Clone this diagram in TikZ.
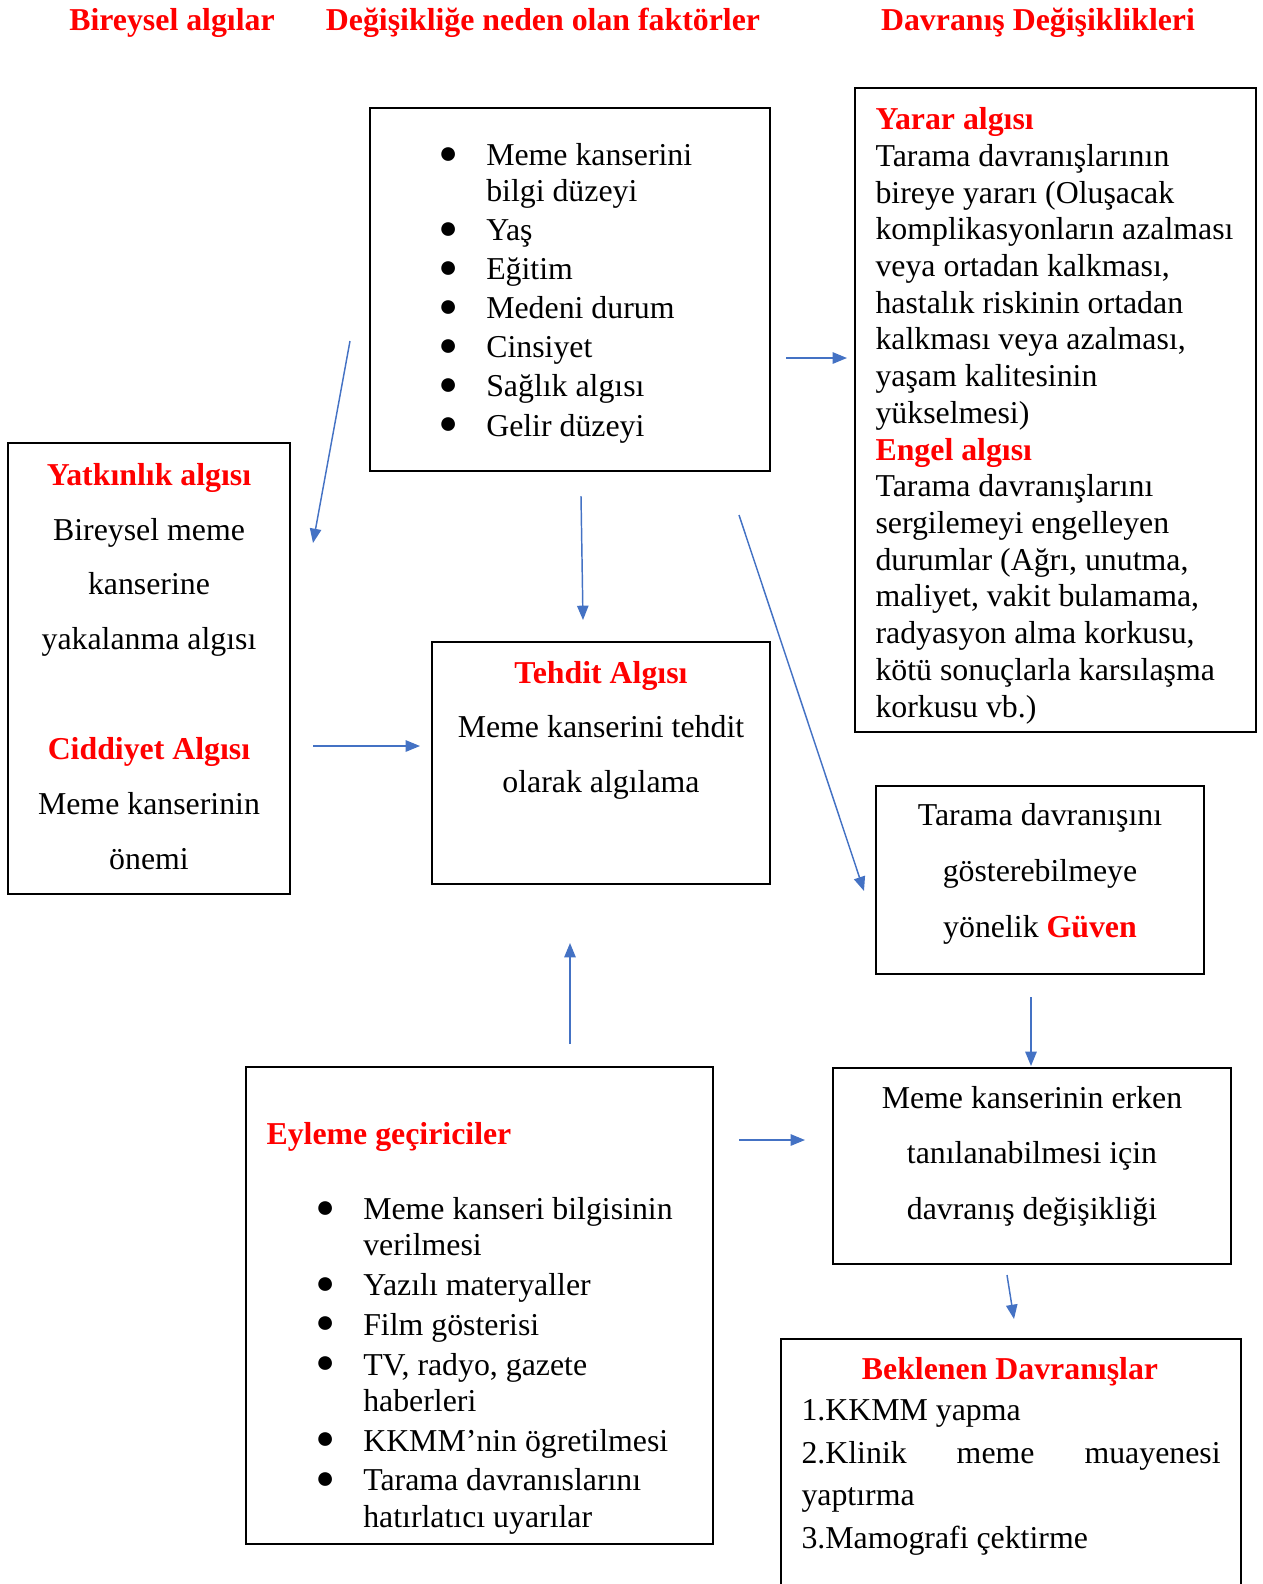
\documentclass[tikz,border=0pt]{standalone}
\usepackage{fontspec}
\setmainfont{Liberation Serif}
\usepackage{tikz}
\usetikzlibrary{arrows.meta}
\definecolor{arrblue}{HTML}{4472C4}
\newcommand{\unitpx}{0.377pt}
\newcommand{\bul}{\makebox[18pt][l]{\raisebox{0.8pt}{●}}}
\newcommand{\ind}{\hspace*{18pt}}
\newcommand{\head}[1]{\textcolor{red}{\textbf{#1}}}

\begin{document}
\begin{tikzpicture}
  [x=\unitpx,y=-\unitpx,
   box/.style={draw,line width=0.8pt,inner sep=0pt,outer sep=0pt},
   txt/.style={inner sep=0pt,font=\fontsize{12}{13.84}\selectfont},
   wide/.style={inner sep=0pt,font=\fontsize{12}{20.7}\selectfont,align=center,anchor=base},
   arr/.style={draw=arrblue,line width=0.55pt,-{Triangle[length=5.4pt,width=4.3pt]}}]
  \useasboundingbox (0,0) rectangle (1263,1584);

  \node[txt,anchor=base] (t1) at (172,30) {\head{Bireysel algılar}};
  \node[txt,anchor=base] (t2) at (543,30) {\head{Değişikliğe neden olan faktörler}};
  \node[txt,anchor=base] (t3) at (1038,30) {\head{Davranış Değişiklikleri}};

  \node[box,minimum width=400*\unitpx,minimum height=363*\unitpx] (fak) at (570,289.5) {};
  \node[box,minimum width=401*\unitpx,minimum height=644*\unitpx] (yarar) at (1055.5,410) {};
  \node[box,minimum width=282*\unitpx,minimum height=451*\unitpx] (yatkin) at (149,668.5) {};
  \node[box,minimum width=338*\unitpx,minimum height=242*\unitpx] (tehdit) at (601,763) {};
  \node[box,minimum width=328*\unitpx,minimum height=188*\unitpx] (guven) at (1040,880) {};
  \node[box,minimum width=467*\unitpx,minimum height=477*\unitpx] (eyleme) at (479.5,1305.5) {};
  \node[box,minimum width=398*\unitpx,minimum height=196*\unitpx] (erken) at (1032,1166) {};
  \node[box,minimum width=460*\unitpx,minimum height=301*\unitpx] (beklenen) at (1011,1489.5) {};

  \node[txt,anchor=base west,align=left,font=\fontsize{12}{13.57}\selectfont] (faklist) at (438,436)
    {\bul Meme kanserini\\ \ind bilgi düzeyi\\[1.15pt]
     \bul Yaş\\[1.15pt] \bul Eğitim\\[1.15pt] \bul Medeni durum\\[1.15pt]
     \bul Cinsiyet\\[1.15pt] \bul Sağlık algısı\\[1.15pt] \bul Gelir düzeyi};

  \node[txt,anchor=base west,align=left] (yarartxt) at (875,717)
    {\head{Yarar algısı}\\ Tarama davranışlarının\\ bireye yararı (Oluşacak\\
     komplikasyonların azalması\\ veya ortadan kalkması,\\ hastalık riskinin ortadan\\
     kalkması veya azalması,\\ yaşam kalitesinin\\ yükselmesi)\\
     \head{Engel algısı}\\ Tarama davranışlarını\\ sergilemeyi engelleyen\\
     durumlar (Ağrı, unutma,\\ maliyet, vakit bulamama,\\ radyasyon alma korkusu,\\
     kötü sonuçlarla karsılaşma\\ korkusu vb.)};

  \node[wide,font=\fontsize{12}{20.6}\selectfont] (yatkintxt) at (149,869)
    {\head{Yatkınlık algısı}\\ Bireysel meme\\ kanserine\\ yakalanma algısı\\[21pt]
     \head{Ciddiyet Algısı}\\ Meme kanserinin\\ önemi};

  \node[wide,font=\fontsize{12}{20.5}\selectfont] (tehdittxt) at (601,792)
    {\head{Tehdit Algısı}\\ Meme kanserini tehdit\\ olarak algılama};

  \node[wide,font=\fontsize{12}{21.1}\selectfont] (guventxt) at (1040,937)
    {Tarama davranışını\\ gösterebilmeye\\ yönelik \head{Güven}};

  \node[wide,font=\fontsize{12}{20.9}\selectfont] (erkentxt) at (1032,1219)
    {Meme kanserinin erken\\ tanılanabilmesi için\\ davranış değişikliği};

  \node[txt,anchor=base west] (eylemehead) at (266,1144) {\head{Eyleme geçiriciler}};
  \node[txt,anchor=base west,align=left,font=\fontsize{12}{13.6}\selectfont] (eylemelist) at (315,1527)
    {\bul Meme kanseri bilgisinin\\ \ind verilmesi\\[1.45pt]
     \bul Yazılı materyaller\\[1.45pt] \bul Film gösterisi\\[1.45pt]
     \bul TV, radyo, gazete\\ \ind haberleri\\[1.45pt]
     \bul KKMM’nin ögretilmesi\\[1.45pt]
     \bul Tarama davranıslarını\\ \ind hatırlatıcı uyarılar};

  \node[txt,anchor=base] (beklhead) at (1010,1379) {\head{Beklenen Davranışlar}};
  \node[txt,anchor=base west,align=left,font=\fontsize{12}{16}\selectfont] (bekllist) at (801,1548)
    {1.KKMM yapma\\ \hbox to 158pt{2.Klinik\hfill meme\hfill muayenesi}\\
     yaptırma\\ 3.Mamografi çektirme};

  \coordinate (a1) at (350,341);  \coordinate (b1) at (313,543);
  \coordinate (a2) at (581,496);  \coordinate (b2) at (583,620);
  \coordinate (a3) at (739,515);  \coordinate (b3) at (864,891);
  \coordinate (a4) at (786,358);  \coordinate (b4) at (847,358);
  \coordinate (a5) at (313,746);  \coordinate (b5) at (420,746);
  \coordinate (a6) at (570,1044); \coordinate (b6) at (570,943);
  \coordinate (a7) at (1031,997); \coordinate (b7) at (1031,1066);
  \coordinate (a8) at (739,1140); \coordinate (b8) at (805,1140);
  \coordinate (a9) at (1007,1275); \coordinate (b9) at (1014,1319);
  \foreach \from/\to in {a1/b1,a2/b2,a3/b3,a4/b4,a5/b5,a6/b6,a7/b7,a8/b8,a9/b9}
    \draw[arr] (\from) -- (\to);

\end{tikzpicture}
\end{document}
